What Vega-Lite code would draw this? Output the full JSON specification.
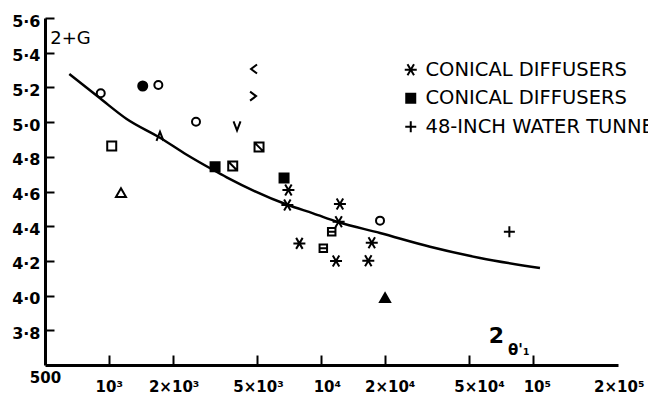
{
  "$schema": "https://vega.github.io/schema/vega-lite/v6.json",
  "width": 573,
  "height": 347,
  "autosize": {"type": "none"},
  "padding": {"left": 45, "top": 18, "right": 30, "bottom": 30},
  "background": "white",
  "config": {"view": {"stroke": null}, "font": "DejaVu Sans", "axis": {"labelOverlap": false, "labelBound": false}},
  "datasets": {
    "curve": [
      {"re": 651, "g": 5.277},
      {"re": 909, "g": 5.137},
      {"re": 1214, "g": 5.018},
      {"re": 1743, "g": 4.910},
      {"re": 2330, "g": 4.812},
      {"re": 3110, "g": 4.724},
      {"re": 3597, "g": 4.682},
      {"re": 7000, "g": 4.522},
      {"re": 9186, "g": 4.474},
      {"re": 12050, "g": 4.424},
      {"re": 19010, "g": 4.361},
      {"re": 32730, "g": 4.282},
      {"re": 56350, "g": 4.217},
      {"re": 108000, "g": 4.159}
    ],
    "points": [
      {"series": "Conical diffusers A", "re": 7030, "g": 4.609},
      {"series": "Conical diffusers A", "re": 6950, "g": 4.522},
      {"series": "Conical diffusers A", "re": 12300, "g": 4.528},
      {"series": "Conical diffusers A", "re": 12130, "g": 4.426},
      {"series": "Conical diffusers A", "re": 7920, "g": 4.301},
      {"series": "Conical diffusers A", "re": 11790, "g": 4.199},
      {"series": "Conical diffusers A", "re": 17380, "g": 4.305},
      {"series": "Conical diffusers A", "re": 16740, "g": 4.201},
      {"series": "Conical diffusers B", "re": 3170, "g": 4.743},
      {"series": "Conical diffusers B", "re": 6705, "g": 4.678},
      {"series": "48-inch water tunnel", "re": 77450, "g": 4.368},
      {"series": "open circle", "re": 916, "g": 5.166},
      {"series": "open circle", "re": 1712, "g": 5.214},
      {"series": "open circle", "re": 2577, "g": 5.002},
      {"series": "open circle", "re": 19010, "g": 4.432},
      {"series": "filled circle", "re": 1445, "g": 5.208},
      {"series": "open square", "re": 1032, "g": 4.862},
      {"series": "slashed square", "re": 3840, "g": 4.747},
      {"series": "slashed square", "re": 5110, "g": 4.856},
      {"series": "barred square", "re": 11250, "g": 4.368},
      {"series": "barred square", "re": 10270, "g": 4.273},
      {"series": "open triangle", "re": 1141, "g": 4.591},
      {"series": "filled triangle", "re": 20080, "g": 3.986},
      {"series": "left caret", "re": 4840, "g": 5.306},
      {"series": "right caret", "re": 4790, "g": 5.150},
      {"series": "down caret", "re": 4024, "g": 4.978},
      {"series": "up caret", "re": 1743, "g": 4.918}
    ]
  },
  "layer": [
    {
      "data": {"name": "curve"},
      "mark": {"type": "line", "interpolate": "monotone", "color": "black", "strokeWidth": 2.5},
      "encoding": {
        "x": {
          "field": "re",
          "type": "quantitative",
          "scale": {"type": "log", "domain": [500, 252000], "nice": false, "zero": false},
          "axis": {
            "values": [500, 1000, 2000, 5000, 10000, 20000, 50000, 100000, 200000],
            "tickCount": 30,
            "grid": false,
            "ticks": true,
            "tickSize": -10,
            "tickWidth": 2,
            "tickColor": "black",
            "tickOpacity": {"condition": {"test": "datum.value == 500 || datum.value == 200000", "value": 0}, "value": 1},
            "title": "2",
            "titleFont": "DejaVu Sans",
            "titleFontSize": 22,
            "titleFontWeight": "bold",
            "titleColor": "black",
            "titleX": 451,
            "titleY": -30,
            "titleAlign": "center",
            "titleBaseline": "middle",
            "domainColor": "black",
            "domainWidth": 3,
            "labelFont": "DejaVu Sans",
            "labelFontSize": 15,
            "labelFontWeight": "bold",
            "labelColor": "black",
            "labelBaseline": "alphabetic",
            "labelFlush": false,
            "labelOverlap": false,
            "labelPadding": {"condition": {"test": "datum.value == 500", "value": 27}, "value": 36},
            "labelOffset": {"condition": [
              {"test": "datum.value == 200000", "value": 22},
              {"test": "datum.value == 50000", "value": 10},
              {"test": "datum.value == 10000", "value": 6},
              {"test": "datum.value == 20000", "value": 5},
              {"test": "datum.value == 100000", "value": 4},
              {"test": "datum.value <= 1000", "value": 0}
            ], "value": 1},
            "labelExpr": "datum.value == 500 ? '500' : datum.value == 1000 ? '10³' : datum.value == 2000 ? '2×10³' : datum.value == 5000 ? '5×10³' : datum.value == 10000 ? '10⁴' : datum.value == 20000 ? '2×10⁴' : datum.value == 50000 ? '5×10⁴' : datum.value == 100000 ? '10⁵' : '2×10⁵'"
          }
        },
        "y": {
          "field": "g",
          "type": "quantitative",
          "scale": {"domain": [3.6, 5.6], "nice": false, "zero": false},
          "axis": {
            "values": [3.8, 4.0, 4.2, 4.4, 4.6, 4.8, 5.0, 5.2, 5.4, 5.6],
            "tickCount": 30,
            "grid": false,
            "ticks": true,
            "tickSize": -9,
            "tickWidth": 2,
            "tickColor": "black",
            "title": "2+G",
            "titleFont": "DejaVu Sans",
            "titleFontSize": 18,
            "titleFontWeight": "normal",
            "titleColor": "black",
            "titleAngle": 0,
            "titleX": 25,
            "titleY": 20,
            "titleAlign": "center",
            "titleBaseline": "middle",
            "domainColor": "black",
            "domainWidth": 3,
            "labelFont": "DejaVu Sans",
            "labelFontSize": 16,
            "labelFontWeight": "bold",
            "labelColor": "black",
            "labelPadding": 14,
            "labelOffset": 3,
            "labelFlush": false,
            "labelOverlap": false,
            "labelExpr": "replace(format(datum.value, '.1f'), '.', '·')"
          }
        }
      }
    },
    {
      "data": {"name": "points"},
      "mark": {"type": "point", "filled": true, "size": 100, "stroke": "black", "strokeWidth": 2, "opacity": 1},
      "encoding": {
        "x": {"field": "re", "type": "quantitative"},
        "y": {"field": "g", "type": "quantitative"},
        "fill": {
          "condition": {"test": "datum.series == 'Conical diffusers B' || datum.series == 'filled circle' || datum.series == 'filled triangle'", "value": "black"},
          "value": "transparent"
        },
        "shape": {
          "field": "series",
          "type": "nominal",
          "scale": {
            "domain": ["Conical diffusers A", "Conical diffusers B", "48-inch water tunnel", "open circle", "filled circle", "open square", "slashed square", "barred square", "open triangle", "filled triangle", "left caret", "right caret", "down caret", "up caret"],
            "range": [
              "M-1.2,0L1.2,0M-0.65,-1.1L0.65,1.1M-0.65,1.1L0.65,-1.1",
              "M-0.9,-0.9L0.9,-0.9L0.9,0.9L-0.9,0.9ZM-0.9,-0.5L0.9,-0.5M-0.9,-0.1L0.9,-0.1M-0.9,0.3L0.9,0.3M-0.9,0.7L0.9,0.7",
              "M-1.1,0L1.1,0M0,-1.1L0,1.1",
              "M-0.8,0A0.8,0.8,0,1,0,0.8,0A0.8,0.8,0,1,0,-0.8,0Z",
              "M-0.9,0A0.9,0.9,0,1,0,0.9,0A0.9,0.9,0,1,0,-0.9,0Z",
              "M-0.9,-0.9L0.9,-0.9L0.9,0.9L-0.9,0.9Z",
              "M-0.9,-0.9L0.9,-0.9L0.9,0.9L-0.9,0.9ZM-0.9,-0.9L0.9,0.9",
              "M-0.75,-0.75L0.75,-0.75L0.75,0.75L-0.75,0.75ZM-0.75,0L0.75,0",
              "M0,-0.95L1,0.8L-1,0.8Z",
              "M0,-0.95L1,0.8L-1,0.8Z",
              "M0.6,-0.9L-0.6,0L0.6,0.9",
              "M-0.6,-0.9L0.6,0L-0.6,0.9",
              "M-0.7,-0.9L0,0.9L0.7,-0.9",
              "M-0.7,0.9L0,-0.9L0.7,0.9"
            ]
          },
          "legend": {
            "values": ["Conical diffusers A", "Conical diffusers B", "48-inch water tunnel"],
            "orient": "none",
            "legendX": 356,
            "legendY": 42,
            "title": null,
            "labelFont": "DejaVu Sans",
            "labelFontSize": 19.5,
            "labelColor": "black",
            "labelLimit": 600,
            "labelOffset": 5,
            "rowPadding": 7.5,
            "symbolSize": 100,
            "symbolStrokeWidth": 2,
            "symbolStrokeColor": "black",
            "symbolOpacity": 1,
            "labelExpr": "datum.label == '48-inch water tunnel' ? '48-INCH WATER TUNNEL' : 'CONICAL DIFFUSERS'"
          }
        }
      }
    },
    {
      "data": {"values": [{}]},
      "mark": {"type": "text", "align": "left", "baseline": "middle", "font": "DejaVu Sans", "fontSize": 15, "fontWeight": "bold", "color": "black"},
      "encoding": {
        "x": {"datum": 76350, "type": "quantitative"},
        "y": {"datum": 3.686, "type": "quantitative"},
        "text": {"value": "θ'₁"}
      }
    }
  ]
}
